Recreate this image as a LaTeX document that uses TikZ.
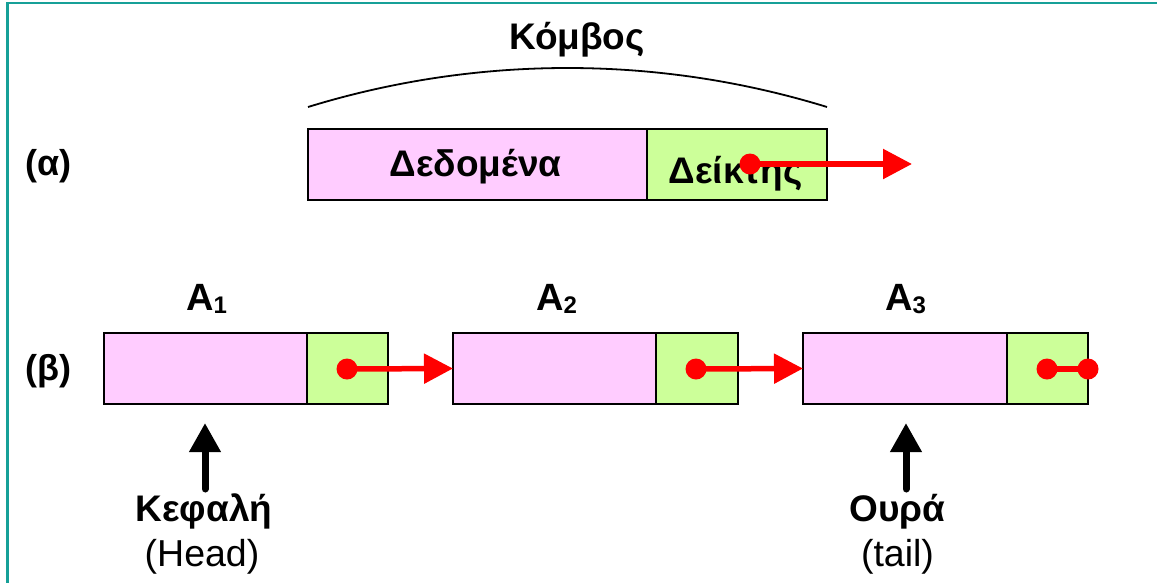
\documentclass[tikz,border=0pt]{standalone}
\usepackage{fontspec}
\setmainfont{Liberation Sans}
\usetikzlibrary{arrows.meta}
\definecolor{framec}{RGB}{22,160,152}
\definecolor{pinkf}{RGB}{255,204,255}
\definecolor{greenf}{RGB}{204,255,153}
\newcommand{\subnum}[1]{\raisebox{-3pt}{\fontsize{24}{28}\selectfont #1}}
\tikzset{
  cell/.style={draw=black, line width=2pt, inner sep=0pt, outer sep=0pt, anchor=north west, minimum height=71pt},
  datacell/.style={cell, fill=pinkf},
  ptrcell/.style={cell, fill=greenf},
  reddot/.style={fill=red, circle, inner sep=0pt, minimum size=21pt},
  redarrow/.style={draw=red, line width=5.5pt, -{Triangle[length=29pt,width=29pt]}},
  redline/.style={draw=red, line width=5.5pt},
  uparrow/.style={draw=black, line width=7pt, line cap=round, -{Triangle[length=29pt,width=30pt]}},
  grklabel/.style={font=\bfseries\fontsize{37}{44}\selectfont, anchor=base, inner sep=0pt},
  latlabel/.style={font=\bfseries\fontsize{36}{42}\selectfont, anchor=base, inner sep=0pt},
  namelabel/.style={font=\bfseries\fontsize{38}{44}\selectfont, anchor=base west, inner sep=0pt},
  reglabel/.style={font=\fontsize{37.5}{44}\selectfont, anchor=base, inner sep=0pt},
}
\begin{document}
\begin{tikzpicture}[x=1pt,y=-1pt]
\useasboundingbox (0,0) rectangle (1157,582);
% frame
\draw[framec, line width=2.5pt] (7.5,584) -- (7.5,3) -- (1159,3);

% (alpha) node
\node[datacell, minimum width=339pt] (data) at (308,129) {};
\node[ptrcell, minimum width=180pt] (ptr) at (647,129) {};
\node[grklabel] (datatxt) at (475.5,176) {Δεδομένα};
\node[grklabel] (ptrtxt) at (735.5,183) {Δείκτης};
\node[latlabel] (alab) at (48.5,175) {(α)};
\node[grklabel] (komvos) at (577,49) {Κόμβος};
\coordinate (arcL) at (data.north west |- 0,107);
\coordinate (arcR) at (ptr.north east |- 0,107);
\draw[black, line width=1.8pt] (arcL) .. controls (477,55) and (658,55) .. (arcR);
\node[reddot] (pa) at (750,164) {};
\coordinate (pend) at (912,164);
\draw[redarrow] (pa.center) -- (pend);

% (beta) list
\node[latlabel] (blab) at (48.5,380) {(β)};
\node[datacell, minimum width=203pt] (d1) at (104,333) {};
\node[ptrcell, minimum width=81pt] (p1) at (307,333) {};
\node[datacell, minimum width=203pt] (d2) at (453,333) {};
\node[ptrcell, minimum width=82pt] (p2) at (656,333) {};
\node[datacell, minimum width=204pt] (d3) at (803,333) {};
\node[ptrcell, minimum width=81pt] (p3) at (1007,333) {};

\node[namelabel] (a1) at (186,310) {A\subnum{1}};
\node[namelabel] (a2) at (536,310) {A\subnum{2}};
\node[namelabel] (a3) at (885,310) {A\subnum{3}};

\node[reddot] (q1) at (347,369) {};
\node[reddot] (q2) at (696,369) {};
\node[reddot] (q3) at (1047,369) {};
\node[reddot] (q4) at (1088,369) {};
\draw[redarrow] (q1.center) -- (d2.west);
\draw[redarrow] (q2.center) -- (d3.west);
\draw[redline] (q3.center) -- (q4.center);

% head / tail
\node[grklabel] (head) at (204,521) {Κεφαλή};
\node[reglabel] (headen) at (202,566) {(Head)};
\node[grklabel] (tail) at (897.5,521) {Ουρά};
\node[reglabel] (tailen) at (897.5,566) {(tail)};
\coordinate (hs) at (205,489);
\coordinate (ts) at (906,489);
\draw[uparrow, shorten >=19pt] (hs) -- (hs |- d1.south);
\draw[uparrow, shorten >=19pt] (ts) -- (ts |- d3.south);
\end{tikzpicture}
\end{document}
